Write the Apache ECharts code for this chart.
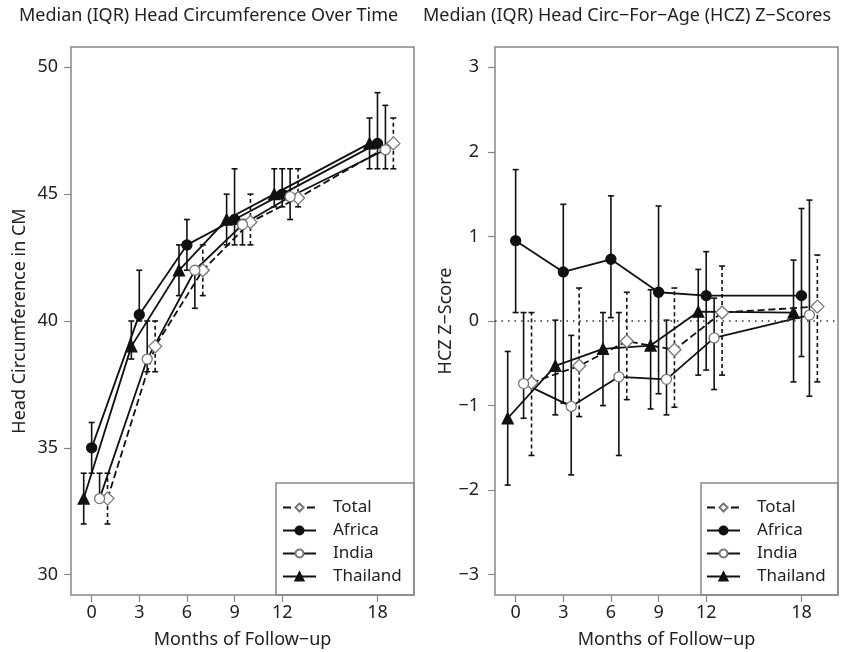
<!DOCTYPE html>
<html><head><meta charset="utf-8">
<script src="https://cdn.jsdelivr.net/npm/echarts@6/dist/echarts.min.js"></script>
<style>html,body{margin:0;padding:0;background:#fff}#c{width:842px;height:652px}</style>
</head><body><div id="c"></div>
<script>
const months = [0, 3, 6, 9, 12, 18];
const groups = ['Total', 'Africa', 'India', 'Thailand'];
const hcTicks = [30, 35, 40, 45, 50];
const zTicks = [-3, -2, -1, 0, 1, 2, 3];

// Head circumference (cm): median, Q1, Q3
const hcTotalMed = [33, 39, 42, 43.9, 44.85, 47.0];
const hcTotalQ1  = [32, 38, 41, 43, 44.5, 46];
const hcTotalQ3  = [34, 40, 43, 45, 46, 48];
const hcAfricaMed = [35, 40.25, 43, 44, 45, 47];
const hcAfricaQ1  = [34, 40, 42, 43, 44.5, 46];
const hcAfricaQ3  = [36, 42, 44, 46, 46, 49];
const hcIndiaMed = [33, 38.5, 42, 43.8, 44.9, 46.75];
const hcIndiaQ1  = [33, 38, 40.5, 43, 44, 46];
const hcIndiaQ3  = [34, 40, 42, 44, 46, 48.5];
const hcThailandMed = [33, 39, 42, 44, 45, 47];
const hcThailandQ1  = [32, 38.5, 41, 43, 44.5, 46];
const hcThailandQ3  = [34, 40, 43, 45, 46, 48];

// HCZ z-scores: median, Q1, Q3
const zTotalMed = [-0.73, -0.53, -0.24, -0.34, 0.10, 0.17];
const zTotalQ1  = [-1.59, -1.13, -0.93, -1.02, -0.64, -0.72];
const zTotalQ3  = [0.10, 0.39, 0.34, 0.39, 0.65, 0.78];
const zAfricaMed = [0.95, 0.58, 0.73, 0.34, 0.30, 0.30];
const zAfricaQ1  = [0.10, -0.97, 0.04, -0.86, -0.58, -0.42];
const zAfricaQ3  = [1.79, 1.38, 1.48, 1.36, 0.82, 1.33];
const zIndiaMed = [-0.74, -1.01, -0.66, -0.69, -0.20, 0.07];
const zIndiaQ1  = [-1.15, -1.82, -1.59, -1.11, -0.81, -0.89];
const zIndiaQ3  = [0.10, -0.17, 0.10, 0.01, 0.27, 1.43];
const zThailandMed = [-1.15, -0.53, -0.33, -0.29, 0.11, 0.10];
const zThailandQ1  = [-1.94, -1.11, -1.00, -1.04, -0.64, -0.72];
const zThailandQ3  = [-0.36, 0.01, 0.10, 0.37, 0.61, 0.72];

const hcData = {
  Total: [hcTotalMed, hcTotalQ1, hcTotalQ3],
  Africa: [hcAfricaMed, hcAfricaQ1, hcAfricaQ3],
  India: [hcIndiaMed, hcIndiaQ1, hcIndiaQ3],
  Thailand: [hcThailandMed, hcThailandQ1, hcThailandQ3]
};
const zData = {
  Total: [zTotalMed, zTotalQ1, zTotalQ3],
  Africa: [zAfricaMed, zAfricaQ1, zAfricaQ3],
  India: [zIndiaMed, zIndiaQ1, zIndiaQ3],
  Thailand: [zThailandMed, zThailandQ1, zThailandQ3]
};

// presentation: horizontal dodge per group
const dodge = { Total: 1, Africa: 0, India: 0.5, Thailand: -0.5 };
const sty = {
  Total:    { symbol: 'diamond', size: 13, fill: '#fff', stroke: '#777', dash: 'dashed' },
  Africa:   { symbol: 'circle', size: 10, fill: '#111', stroke: '#111', dash: 'solid' },
  India:    { symbol: 'circle', size: 10, fill: '#fff', stroke: '#777', dash: 'solid' },
  Thailand: { symbol: 'triangle', size: 11, fill: '#111', stroke: '#111', dash: 'solid' }
};
const FONT = 'Noto Sans';
const TXT = '#222';
const AX = '#888';

function errRender(dashed) {
  return function (params, api) {
    const x = api.value(0), lo = api.value(1), hi = api.value(2);
    const a = api.coord([x, lo]), b = api.coord([x, hi]);
    const w = 3;
    const st = { stroke: '#111', lineWidth: 1.6, lineDash: dashed ? [4, 3] : null, fill: null };
    const cs = { stroke: '#111', lineWidth: 1.6, fill: null };
    return { type: 'group', children: [
      { type: 'line', shape: { x1: a[0], y1: a[1], x2: b[0], y2: b[1] }, style: st },
      { type: 'line', shape: { x1: a[0] - w, y1: a[1], x2: a[0] + w, y2: a[1] }, style: cs },
      { type: 'line', shape: { x1: b[0] - w, y1: b[1], x2: b[0] + w, y2: b[1] }, style: cs }
    ]};
  };
}

const series = [];
[hcData, zData].forEach(function (ds, gi) {
  groups.forEach(function (g) {
    const med = ds[g][0], q1 = ds[g][1], q3 = ds[g][2];
    const s = sty[g];
    series.push({
      type: 'custom', name: g + '_err' + gi, xAxisIndex: gi, yAxisIndex: gi, z: 1,
      renderItem: errRender(g === 'Total'), silent: true,
      data: months.map(function (m, i) { return [m + dodge[g], q1[i], q3[i]]; }),
      encode: { x: 0, y: [1, 2] }
    });
    const ls = {
      type: 'line', name: g, xAxisIndex: gi, yAxisIndex: gi, z: 3,
      symbol: s.symbol, symbolSize: s.size, showAllSymbol: true,
      itemStyle: { color: s.fill, borderColor: s.stroke, borderWidth: 1.3 },
      lineStyle: { color: '#111', width: 1.8, type: s.dash },
      emphasis: { disabled: true }, animation: false,
      data: months.map(function (m, i) { return [m + dodge[g], med[i]]; })
    };
    if (gi === 1 && g === 'Total') {
      ls.markLine = { silent: true, symbol: 'none', animation: false,
        label: { show: false },
        lineStyle: { type: [1.5, 5], color: '#333', width: 1.5 },
        data: [{ yAxis: 0 }] };
    }
    series.push(ls);
  });
});

function xAx(gi) {
  return {
    type: 'value', gridIndex: gi, min: -1.3, max: 20.3,
    axisLine: { show: false, onZero: false },
    splitLine: { show: false },
    axisTick: { show: true, customValues: months, length: 7, lineStyle: { color: AX, width: 1.2 } },
    axisLabel: { customValues: months, margin: 9, fontSize: 18, color: TXT, fontFamily: FONT },
    name: 'Months of Follow\u2212up', nameLocation: 'middle', nameGap: 36,
    nameTextStyle: { fontSize: 18, color: TXT, fontFamily: FONT }
  };
}
function legendOf(left) {
  return { data: groups, orient: 'vertical', left: left, top: 494, itemWidth: 33, itemHeight: 10, itemGap: 6,
    padding: 5, selectedMode: false,
    textStyle: { fontSize: 17, color: TXT, fontFamily: FONT, padding: [0, 0, 0, 12] } };
}
const option = {
  animation: false,
  backgroundColor: '#fff',
  title: [
    { text: 'Median (IQR) Head Circumference Over Time', left: 14, top: 2,
      textStyle: { fontSize: 18, fontWeight: 'normal', color: TXT, fontFamily: FONT } },
    { text: 'Median (IQR) Head Circ\u2212For\u2212Age (HCZ) Z\u2212Scores', left: 418, top: 2,
      textStyle: { fontSize: 18, fontWeight: 'normal', color: TXT, fontFamily: FONT } }
  ],
  grid: [
    { left: 71, right: 428, top: 47, bottom: 57, show: true, borderColor: AX, borderWidth: 1.5,
      backgroundColor: 'transparent', containLabel: false, outerBoundsMode: 'none' },
    { left: 495, right: 4, top: 47, bottom: 57, show: true, borderColor: AX, borderWidth: 1.5,
      backgroundColor: 'transparent', containLabel: false, outerBoundsMode: 'none' }
  ],
  xAxis: [xAx(0), xAx(1)],
  yAxis: [
    { type: 'value', gridIndex: 0, min: 29.2, max: 50.8,
      axisLine: { show: false, onZero: false }, splitLine: { show: false },
      axisTick: { show: true, customValues: hcTicks, length: 7, lineStyle: { color: AX, width: 1.2 } },
      axisLabel: { customValues: hcTicks, margin: 13, fontSize: 18, color: TXT, fontFamily: FONT },
      name: 'Head Circumference in CM', nameLocation: 'middle', nameGap: 42,
      nameTextStyle: { fontSize: 18, color: TXT, fontFamily: FONT } },
    { type: 'value', gridIndex: 1, min: -3.24, max: 3.24,
      axisLine: { show: false, onZero: false }, splitLine: { show: false },
      axisTick: { show: true, customValues: zTicks, length: 7, lineStyle: { color: AX, width: 1.2 } },
      axisLabel: { customValues: zTicks, margin: 16, fontSize: 18, color: TXT, fontFamily: FONT,
        formatter: function (v) { return v < 0 ? '\u2212' + Math.abs(v) : String(v); } },
      name: 'HCZ Z\u2212Score', nameLocation: 'middle', nameGap: 34,
      nameTextStyle: { fontSize: 18, color: TXT, fontFamily: FONT } }
  ],
  legend: [legendOf(277), legendOf(701)],
  graphic: [
    { type: 'rect', shape: { x: 276, y: 483, width: 138, height: 112 }, style: { fill: 'transparent', stroke: AX, lineWidth: 1.5 }, silent: true },
    { type: 'rect', shape: { x: 701, y: 483, width: 137, height: 112 }, style: { fill: 'transparent', stroke: AX, lineWidth: 1.5 }, silent: true }
  ],
  series: series
};
const chart = echarts.init(document.getElementById('c'), null, { renderer: 'canvas' });
chart.setOption(option);
</script>
</body></html>
